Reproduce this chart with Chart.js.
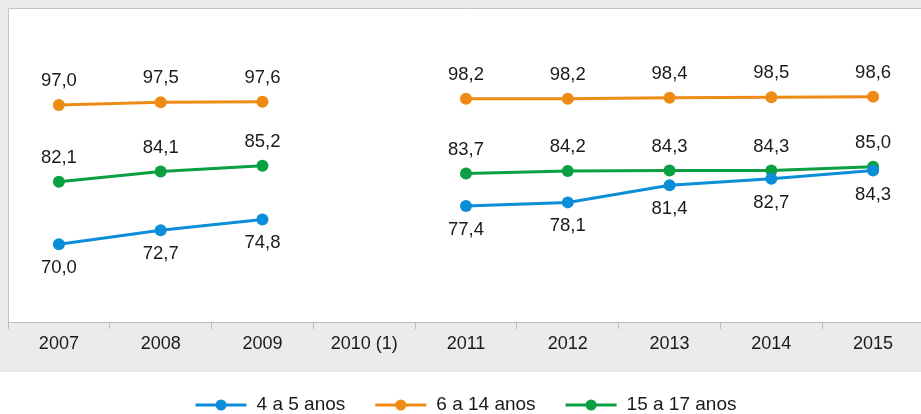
<!DOCTYPE html>
<html lang="pt">
<head>
  <meta charset="UTF-8" />
  <title>Taxa de atendimento escolar</title>
  <script src="https://cdn.jsdelivr.net/npm/chart.js"></script>
  <style>
    html, body { margin: 0; padding: 0; overflow: hidden; background: #fff; }
    #wrap { width: 930px; height: 414px; position: relative; }
  </style>
</head>
<body>
  <div id="wrap"><canvas id="chart"></canvas></div>

  <script>
    // Data
    const years = ['2007', '2008', '2009', '2010 (1)', '2011', '2012', '2013', '2014', '2015'];
    const age4to5 = [70.0, 72.7, 74.8, null, 77.4, 78.1, 81.4, 82.7, 84.3];
    const age6to14 = [97.0, 97.5, 97.6, null, 98.2, 98.2, 98.4, 98.5, 98.6];
    const age15to17 = [82.1, 84.1, 85.2, null, 83.7, 84.2, 84.3, 84.3, 85.0];
    const seriesNames = ['4 a 5 anos', '6 a 14 anos', '15 a 17 anos'];

    const BLUE = '#0b8ed8';
    const ORANGE = '#ee8b14';
    const GREEN = '#0a9f41';
    const FONT = '"Liberation Sans", Arial, Helvetica, sans-serif';

    // label placement per series: -1 above, +1 below
    const labelSide = [1, -1, -1];

    const frame = {
      id: 'frame',
      beforeDraw(chart) {
        const { ctx, chartArea: a, width } = chart;
        ctx.save();
        ctx.fillStyle = '#ffffff';
        ctx.fillRect(0, 0, width, chart.height);
        ctx.fillStyle = '#ebebeb';
        ctx.fillRect(0, 0, width, a.bottom + 50);
        ctx.fillStyle = '#ffffff';
        ctx.fillRect(a.left, a.top, a.right - a.left, a.bottom - a.top);
        ctx.strokeStyle = '#c4c4c4';
        ctx.lineWidth = 1;
        ctx.beginPath();
        ctx.moveTo(a.left + 0.5, a.bottom);
        ctx.lineTo(a.left + 0.5, a.top + 0.5);
        ctx.lineTo(a.right, a.top + 0.5);
        ctx.stroke();
        ctx.restore();
      }
    };

    const valueLabels = {
      id: 'valueLabels',
      afterDatasetsDraw(chart) {
        const { ctx } = chart;
        ctx.save();
        ctx.font = '18.5px ' + FONT;
        ctx.fillStyle = '#1a1a1a';
        ctx.textAlign = 'center';
        ctx.textBaseline = 'middle';
        chart.data.datasets.forEach((ds, i) => {
          const meta = chart.getDatasetMeta(i);
          meta.data.forEach((pt, j) => {
            const v = ds.data[j];
            if (v === null) return;
            const txt = v.toFixed(1).replace('.', ',');
            ctx.fillText(txt, pt.x, pt.y + labelSide[i] * 24);
          });
        });
        ctx.restore();
      }
    };

    const lineLegend = {
      id: 'lineLegend',
      afterDraw(chart) {
        const { ctx, chartArea: a } = chart;
        const lineW = 51, gapText = 10, gapItem = 30;
        const y = 405;
        ctx.save();
        ctx.font = '19px ' + FONT;
        ctx.textBaseline = 'middle';
        const items = chart.data.datasets.map(ds => ({
          label: ds.label, color: ds.borderColor, w: ctx.measureText(ds.label).width
        }));
        let total = items.reduce((s, it) => s + lineW + gapText + it.w, 0) + gapItem * (items.length - 1);
        let x = (a.left + a.right) / 2 - total / 2;
        items.forEach(it => {
          ctx.strokeStyle = it.color;
          ctx.lineWidth = 3;
          ctx.beginPath();
          ctx.moveTo(x, y);
          ctx.lineTo(x + lineW, y);
          ctx.stroke();
          ctx.fillStyle = it.color;
          ctx.beginPath();
          ctx.arc(x + lineW / 2, y, 5.5, 0, Math.PI * 2);
          ctx.fill();
          ctx.fillStyle = '#1a1a1a';
          ctx.fillText(it.label, x + lineW + gapText, y);
          x += lineW + gapText + it.w + gapItem;
        });
        ctx.restore();
      }
    };

    function series(label, data, color) {
      return {
        label: label,
        data: data,
        borderColor: color,
        backgroundColor: color,
        borderWidth: 3,
        pointRadius: 6,
        pointHoverRadius: 6,
        pointBackgroundColor: color,
        pointBorderWidth: 0,
        tension: 0,
        spanGaps: false
      };
    }

    new Chart(document.getElementById('chart'), {
      type: 'line',
      data: {
        labels: years,
        datasets: [
          series(seriesNames[0], age4to5, BLUE),
          series(seriesNames[1], age6to14, ORANGE),
          series(seriesNames[2], age15to17, GREEN)
        ]
      },
      options: {
        responsive: true,
        maintainAspectRatio: false,
        animation: false,
        layout: { padding: { left: 8, top: 8, right: 0, bottom: 42 } },
        plugins: {
          legend: { display: false },
          tooltip: { enabled: false }
        },
        scales: {
          x: {
            offset: true,
            afterFit(scale) { scale.height = 50; },
            grid: {
              offset: true,
              drawOnChartArea: false,
              drawTicks: true,
              tickLength: 7,
              color: '#bdbdbd'
            },
            border: { color: '#bdbdbd', width: 1 },
            ticks: {
              color: '#1a1a1a',
              padding: 4,
              font: { family: FONT, size: 18 },
              maxRotation: 0
            }
          },
          y: {
            display: false,
            min: 54.9,
            max: 115.8
          }
        }
      },
      plugins: [frame, valueLabels, lineLegend]
    });
  </script>
</body>
</html>
